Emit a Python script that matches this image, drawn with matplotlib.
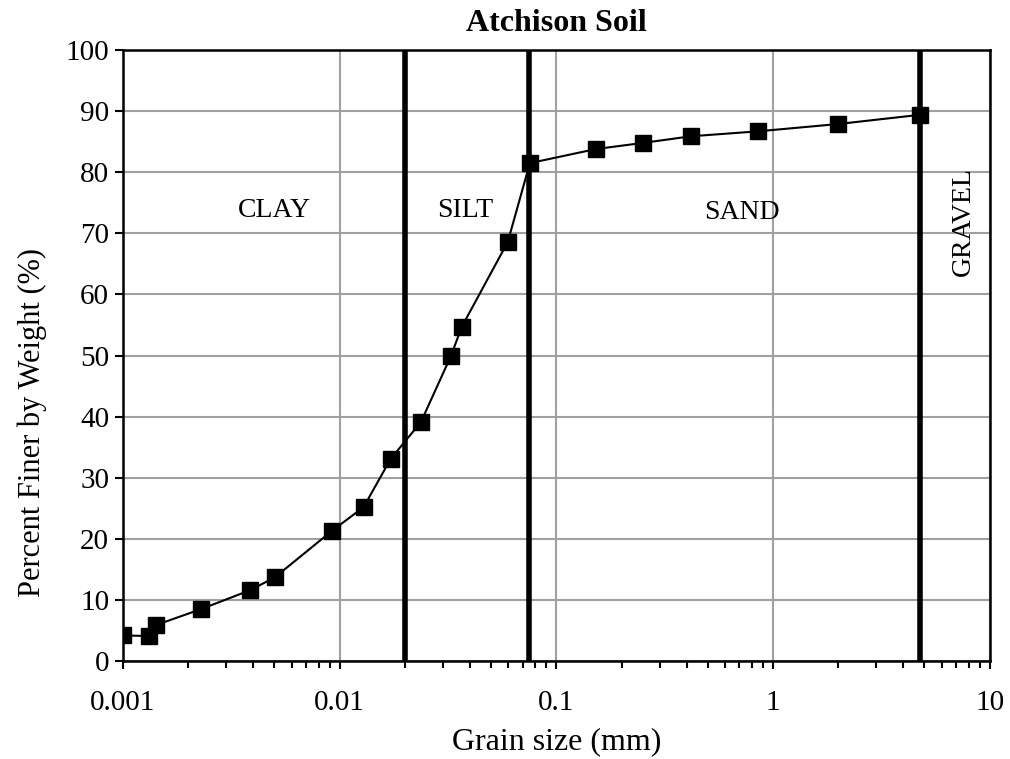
import numpy as np
import matplotlib.pyplot as plt
from matplotlib.ticker import LogLocator, FixedLocator, NullFormatter

# grain size distribution, Atchison soil
grain_mm = [0.001, 0.00132, 0.00142, 0.00229, 0.00386, 0.00502, 0.0092, 0.0129,
            0.0172, 0.0237, 0.0326, 0.0366, 0.0597, 0.0755, 0.152, 0.25, 0.42,
            0.85, 2.0, 4.75]
pct_finer = [4.2, 4.1, 5.9, 8.5, 11.6, 13.7, 21.3, 25.2, 33.1, 39.1, 49.9, 54.7,
             68.6, 81.5, 83.8, 84.8, 85.9, 86.7, 87.9, 89.4]

boundaries = [0.02, 0.075, 4.75]
zone_names = ['CLAY', 'SILT', 'SAND', 'GRAVEL']
zone_x = [0.005, 0.038, 0.72, 7.6]
zone_y = [73.8, 73.8, 73.5, 72.0]

plt.rcParams['font.family'] = ['Liberation Serif', 'DejaVu Serif']

fig = plt.figure(figsize=(10.1, 7.59), dpi=100)
ax = fig.add_axes([0.1218, 0.129, 0.858, 0.805])

ax.set_xscale('log')
ax.set_xlim(0.001, 10)
ax.set_ylim(0, 100)

ax.grid(True, which='major', color='#a0a0a0', lw=1.5)
ax.set_axisbelow(True)

for b in boundaries:
    ax.axvline(b, color='black', lw=4, zorder=2)

ax.plot(grain_mm, pct_finer, color='black', lw=1.5, marker='s', ms=11, zorder=3)

for name, x, y in zip(zone_names, zone_x, zone_y):
    rot = 90 if name == 'GRAVEL' else 0
    ax.text(x, y, name, ha='center', va='center', fontsize=20, rotation=rot)

ax.set_yticks(np.arange(0, 101, 10))
ax.xaxis.set_major_locator(FixedLocator([0.001, 0.01, 0.1, 1, 10]))
ax.set_xticklabels(['0.001', '0.01', '0.1', '1', '10'])
ax.xaxis.set_minor_locator(LogLocator(base=10, subs=np.arange(2, 10)))
ax.xaxis.set_minor_formatter(NullFormatter())

ax.tick_params(axis='both', which='major', direction='out', length=6, width=1.5,
               labelsize=21, colors='black')
ax.tick_params(axis='x', which='major', pad=15)
ax.tick_params(axis='y', which='major', pad=4)
ax.tick_params(axis='x', which='minor', direction='out', length=5, width=1.5)
for s in ax.spines.values():
    s.set_linewidth(1.8)

ax.set_xlabel('Grain size (mm)', fontsize=23, labelpad=8)
ax.set_ylabel('Percent Finer by Weight (%)', fontsize=22)
ax.yaxis.set_label_coords(-0.088, 0.391)
ax.set_title('Atchison Soil', fontsize=23, fontweight='bold', pad=14)

fig.savefig('out.png', dpi=100)
